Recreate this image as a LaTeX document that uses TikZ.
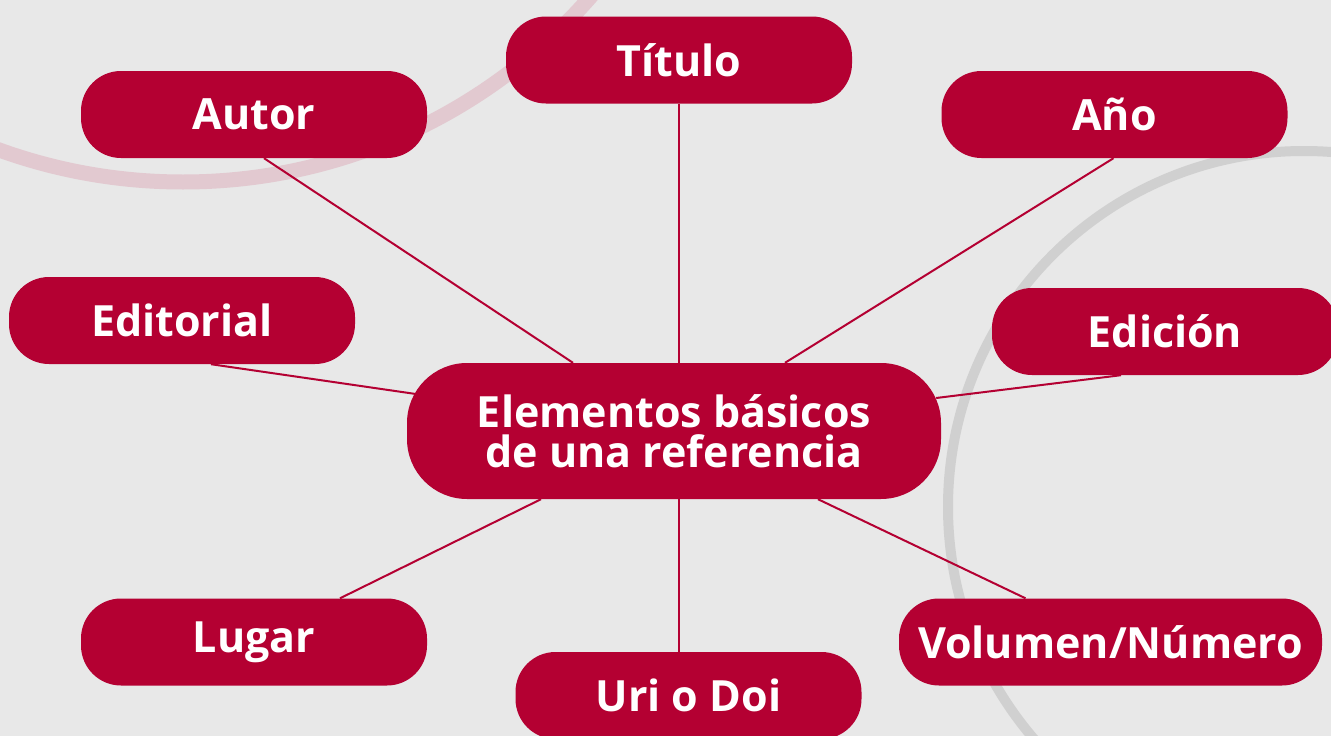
\documentclass[tikz,border=0pt]{standalone}
\usepackage{fontspec}
\setmainfont{Open Sans}
\definecolor{refred}{HTML}{B40032}
\definecolor{bggray}{HTML}{E8E8E8}
\definecolor{arcpink}{HTML}{E2C9D0}
\definecolor{arcgray}{HTML}{D0D0D0}

\begin{document}
\begin{tikzpicture}[x=1pt,y=-1pt,
  elem/.style={fill=refred,text=white,rounded corners=40pt,minimum width=346pt,
    minimum height=87pt,inner sep=0pt,font=\fontsize{43}{40}\selectfont\bfseries},
  link/.style={draw=refred,line width=2pt}]
\fill[bggray] (0,0) rectangle (1331,736);
\useasboundingbox (0,0) rectangle (1331,736);
\clip (0,0) rectangle (1331,736);
\draw[arcpink,line width=15pt] (183,-359) circle (541);
\draw[arcgray,line width=10pt] (1304,507) circle (356);

\node[elem] (titulo) at (679,60) {Título};
\node[elem] (autor) at (254,114.5) {Autor};
\node[elem] (ano) at (1114.5,114.5) {Año};
\node[elem] (editorial) at (182,320.5) {Editorial};
\node[elem] (edicion) at (1165,331.5) {Edición};
\node[elem,minimum width=534pt,minimum height=136pt,rounded corners=60pt,align=center] (ctr) at (674,431) {Elementos básicos\\de una referencia};
\node[elem] (lugar) at (254,642) {Lugar};
\node[elem] (uri) at (688.5,695.5) {Uri o Doi};
\node[elem,minimum width=423pt] (volumen) at (1110.5,642) {Volumen/Número};

\draw[link] ([xshift=10]autor.south) -- ([xshift=-101]ctr.north);
\draw[link] (titulo.south) -- (titulo.south |- ctr.north);
\draw[link] ([xshift=-1]ano.south) -- ([xshift=111]ctr.north);
\draw[link] ([xshift=29]editorial.south) -- ([xshift=9,yshift=37]ctr.west);
\draw[link] ([xshift=-44]edicion.south) -- ([xshift=-5,yshift=33]ctr.east);
\draw[link] ([xshift=86]lugar.north) -- ([xshift=-133]ctr.south);
\draw[link] ([xshift=-9.5]uri.north) -- ([xshift=5]ctr.south);
\draw[link] ([xshift=-85]volumen.north) -- ([xshift=144]ctr.south);
\end{tikzpicture}
\end{document}
